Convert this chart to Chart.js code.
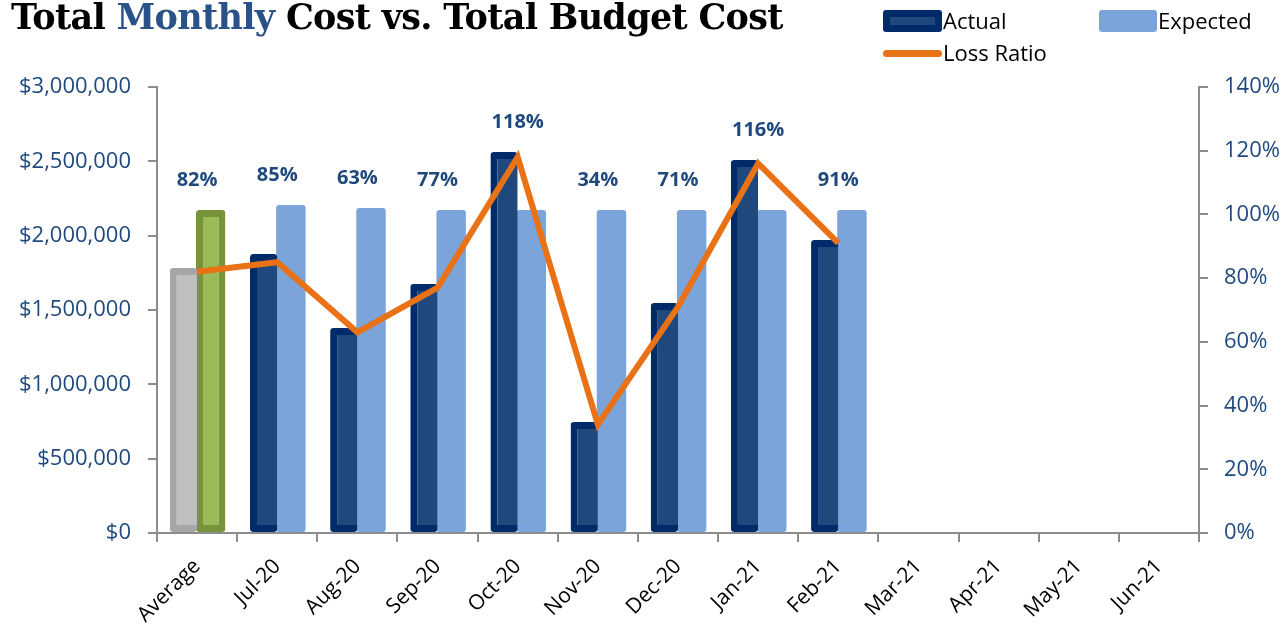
<!DOCTYPE html>
<html>
<head>
<meta charset="utf-8">
<script src="https://cdn.jsdelivr.net/npm/chart.js@4"></script>
<style>
  body { margin: 0; background: #fff; }
  .wrap { position: relative; width: 1287px; height: 636px; }
  .title {
    position: absolute; left: 11px; top: -4px;
    font-family: "DejaVu Serif", serif; font-weight: bold;
    font-size: 35px; color: #000; white-space: nowrap; letter-spacing: -0.7px;
  }
  .title span { color: #2a5288; }
  .legend { position: absolute; left: 0; top: 0; font-family: "Open Sans", sans-serif; font-size: 22px; color: #000; }
  .legend div { position: absolute; white-space: nowrap; line-height: 26px; }
  .box { display: inline-block; vertical-align: middle; margin-top: -4px; }
</style>
</head>
<body>
<div class="wrap">
  <canvas id="chart"></canvas>
  <div class="title">Total <span>Monthly</span> Cost vs. Total Budget Cost</div>
  <div class="legend">
    <div style="left:883px; top:7px;"><span class="box" style="width:45px;height:8px;background:#1f497d;border:7px solid #002b6b;border-radius:3px;margin-right:1px;"></span>Actual</div>
    <div style="left:1099px; top:7px;"><span class="box" style="width:58px;height:22px;background:#7ba4da;border-radius:3px;margin-right:1px;"></span>Expected</div>
    <div style="left:883px; top:39px;"><span class="box" style="width:59px;height:7px;background:#e97116;border-radius:4px;margin-right:1px;"></span>Loss Ratio</div>
  </div>
</div>
<script>
const months = ["Average", "Jul-20", "Aug-20", "Sep-20", "Oct-20", "Nov-20", "Dec-20",
  "Jan-21", "Feb-21", "Mar-21", "Apr-21", "May-21", "Jun-21"];
const actualCost = [1782000, 1877000, 1379000, 1675000, 2563000, 747000, 1547000,
  2509000, 1971000, null, null, null, null];
const expectedCost = [2172000, 2206000, 2186000, 2172000, 2172000, 2172000, 2172000,
  2172000, 2172000, null, null, null, null];
const lossRatio = [82, 85, 63, 77, 118, 34, 71, 116, 91, null, null, null, null];
const leftTicks = [0, 500000, 1000000, 1500000, 2000000, 2500000, 3000000];
const rightTicks = [0, 20, 40, 60, 80, 100, 120, 140];

const axisBlue = '#1f497d';
const axisGray = '#8c8c8c';
const tickFont = { family: 'Open Sans', size: 22 };

// average column gets its own colours
const actualFill = months.map((m, i) => i === 0 ? '#bfbfbf' : '#1f497d');
const actualBorder = months.map((m, i) => i === 0 ? '#a6a6a6' : '#002b6b');
const expectedFill = months.map((m, i) => i === 0 ? '#9bbb59' : '#7ba4da');
const expectedBorder = months.map((m, i) => i === 0 ? '#77933c' : '#7ba4da');

const pctLabels = {
  id: 'pctLabels',
  afterDatasetsDraw(chart) {
    const { ctx, scales: { x, y } } = chart;
    ctx.save();
    ctx.font = 'bold 20px "Open Sans"';
    ctx.fillStyle = axisBlue;
    ctx.textAlign = 'center';
    ctx.textBaseline = 'middle';
    lossRatio.forEach((v, i) => {
      if (v == null) return;
      const top = Math.max(actualCost[i], expectedCost[i]);
      ctx.fillText(v + '%', x.getPixelForValue(i), y.getPixelForValue(top) - 30);
    });
    ctx.restore();
  }
};

new Chart(document.getElementById('chart'), {
  type: 'bar',
  data: {
    labels: months,
    datasets: [
      {
        type: 'line',
        label: 'Loss Ratio',
        data: lossRatio,
        yAxisID: 'y2',
        borderColor: '#e97116',
        borderWidth: 6,
        pointRadius: 0,
        borderJoinStyle: 'miter',
        order: 0,
      },
      {
        label: 'Actual',
        data: actualCost,
        backgroundColor: actualFill,
        borderColor: actualBorder,
        borderWidth: { left: 7, top: 7, bottom: 7, right: 0 },
        borderRadius: 3,
        borderSkipped: false,
        barPercentage: 1,
        categoryPercentage: 0.68,
        order: 1,
      },
      {
        label: 'Expected',
        data: expectedCost,
        backgroundColor: expectedFill,
        borderColor: expectedBorder,
        borderWidth: months.map((m, i) => i === 0 ? 7 : 0),
        borderRadius: 3,
        borderSkipped: false,
        barPercentage: 1.08,
        categoryPercentage: 0.68,
        order: 2,
      },
    ]
  },
  options: {
    responsive: true,
    maintainAspectRatio: false,
    animation: false,
    layout: { padding: { top: 87, left: 0, right: 0, bottom: 0 } },
    plugins: {
      legend: { display: false },
      tooltip: { enabled: false },
    },
    scales: {
      x: {
        grid: { display: true, offset: true, drawOnChartArea: false, drawTicks: true, tickLength: 9, color: axisGray, lineWidth: 2 },
        border: { color: axisGray, width: 2 },
        ticks: { color: '#000', font: { family: 'Open Sans', size: 21 }, maxRotation: 45, minRotation: 45, padding: 12, autoSkip: false },
        afterFit(scale) { scale.height = 103; },
      },
      y: {
        position: 'left',
        min: 0, max: 3000000,
        afterBuildTicks(scale) { scale.ticks = leftTicks.map(v => ({ value: v })); },
        grid: { drawOnChartArea: false, tickLength: 9, color: axisGray, lineWidth: 2 },
        border: { color: axisGray, width: 2 },
        ticks: {
          color: axisBlue, font: tickFont, padding: 17,
          callback: v => '$' + v.toLocaleString('en-US'),
        },
        afterFit(scale) { scale.width = 157; },
      },
      y2: {
        position: 'right',
        min: 0, max: 140,
        afterBuildTicks(scale) { scale.ticks = rightTicks.map(v => ({ value: v })); },
        grid: { drawOnChartArea: false, tickLength: 9, color: axisGray, lineWidth: 2 },
        border: { color: axisGray, width: 2 },
        ticks: { color: axisBlue, font: tickFont, padding: 16, callback: v => v + '%' },
        afterFit(scale) { scale.width = 88; },
      },
    }
  },
  plugins: [pctLabels]
});
</script>
</body>
</html>
